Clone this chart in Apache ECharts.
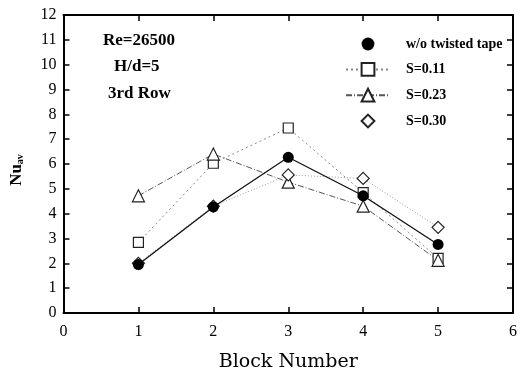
<!DOCTYPE html>
<html>
<head>
<meta charset="utf-8">
<script src="https://cdn.jsdelivr.net/npm/echarts@6/dist/echarts.min.js"></script>
<style>
  html, body { margin: 0; padding: 0; background: #fff; }
  #chart { width: 521px; height: 377px; }
</style>
</head>
<body>
<div id="chart"></div>
<script>
// 数据
var blocks = [1, 2, 3, 4, 5];
var noTape = [1.95, 4.27, 6.27, 4.72, 2.76];
var s011 = [2.84, 6.03, 7.45, 4.85, 2.2];
var s023 = [4.72, 6.4, 5.27, 4.3, 2.12];
var s030 = [2.0, 4.3, 5.56, 5.42, 3.45];
var seriesNames = ['w/o twisted tape', 'S=0.11', 'S=0.23', 'S=0.30'];
var xTicks = [0, 1, 2, 3, 4, 5, 6];
var yTicks = [0, 1, 2, 3, 4, 5, 6, 7, 8, 9, 10, 11, 12];

(function () {
    var myChart = echarts.init(document.getElementById('chart'));
    var serif = '"Liberation Serif", "DejaVu Serif", serif';

    function pts(vals) {
        return blocks.map(function (b, i) { return [b, vals[i]]; });
    }

    var axisLine = { show: true, onZero: false, lineStyle: { color: '#000', width: 2 } };
    var axisTick = { show: true, inside: true, length: 6, lineStyle: { color: '#000', width: 1.5 } };

    var option = {
        animation: false,
        grid: { left: 61, right: 8, top: 15, bottom: 62 },
        legend: {
            orient: 'vertical',
            left: 340,
            top: 32,
            itemGap: 11,
            itemWidth: 44,
            itemHeight: 16,
            textStyle: { fontFamily: serif, fontWeight: 'bold', fontSize: 14, color: '#000', padding: [0, 0, 0, 11] },
            data: [
                { name: seriesNames[0], lineStyle: { opacity: 0 } },
                { name: seriesNames[1] },
                { name: seriesNames[2] },
                { name: seriesNames[3], lineStyle: { opacity: 0 } }
            ]
        },
        graphic: [
            { type: 'text', left: 103, top: 32, style: { text: 'Re=26500', font: 'bold 17px ' + serif, fill: '#000' } },
            { type: 'text', left: 114, top: 58, style: { text: 'H/d=5', font: 'bold 17px ' + serif, fill: '#000' } },
            { type: 'text', left: 108, top: 85, style: { text: '3rd Row', font: 'bold 17px ' + serif, fill: '#000' } }
        ],
        xAxis: [
            {
                type: 'value', min: xTicks[0], max: xTicks[xTicks.length - 1], interval: 1,
                name: 'Block Number', nameLocation: 'middle', nameGap: 40,
                nameTextStyle: { fontFamily: '"DejaVu Serif", serif', fontSize: 19, fontWeight: 'normal', color: '#000' },
                axisLine: axisLine, axisTick: axisTick,
                axisLabel: { fontFamily: serif, fontSize: 16, color: '#000', margin: 11 },
                splitLine: { show: false }
            },
            {
                type: 'value', position: 'top', min: xTicks[0], max: xTicks[xTicks.length - 1], interval: 1,
                axisLine: axisLine, axisTick: axisTick, axisLabel: { show: false }, splitLine: { show: false }
            }
        ],
        yAxis: [
            {
                type: 'value', min: yTicks[0], max: yTicks[yTicks.length - 1], interval: 1,
                name: '{a|Nu}{b|av}', nameLocation: 'middle', nameGap: 38, nameRotate: 90,
                nameTextStyle: {
                    padding: [0, 12, 0, 0],
                    rich: {
                        a: { fontFamily: serif, fontSize: 17, fontWeight: 'bold', color: '#000' },
                        b: { fontFamily: serif, fontSize: 10, fontWeight: 'bold', color: '#000', verticalAlign: 'bottom', padding: [8, 0, 0, 0] }
                    }
                },
                axisLine: axisLine, axisTick: axisTick,
                axisLabel: { fontFamily: serif, fontSize: 16, color: '#000', margin: 7 },
                splitLine: { show: false }
            },
            {
                type: 'value', position: 'right', min: yTicks[0], max: yTicks[yTicks.length - 1], interval: 1,
                axisLine: axisLine, axisTick: axisTick, axisLabel: { show: false }, splitLine: { show: false }
            }
        ],
        series: [
            {
                name: seriesNames[0], type: 'line', data: pts(noTape),
                symbol: 'circle', symbolSize: 11,
                itemStyle: { color: '#000' },
                lineStyle: { color: '#111', width: 1.3 },
                z: 5
            },
            {
                name: seriesNames[1], type: 'line', data: pts(s011),
                symbol: 'rect', symbolSize: 10,
                itemStyle: { color: '#fff', borderColor: '#222', borderWidth: 1.2 },
                lineStyle: { color: '#888', width: 1, type: [2, 3] }
            },
            {
                name: seriesNames[2], type: 'line', data: pts(s023),
                symbol: 'triangle', symbolSize: 12,
                itemStyle: { color: '#fff', borderColor: '#222', borderWidth: 1.2 },
                lineStyle: { color: '#555', width: 1, type: [6, 2, 1, 2] }
            },
            {
                name: seriesNames[3], type: 'line', data: pts(s030),
                symbol: 'diamond', symbolSize: 12,
                itemStyle: { color: '#fff', borderColor: '#222', borderWidth: 1.2 },
                lineStyle: { color: '#999', width: 1, type: [1, 2] }
            }
        ]
    };

    myChart.setOption(option);

    window.addEventListener('resize', function () {
        myChart.resize();
    });
})();
</script>
</body>
</html>
